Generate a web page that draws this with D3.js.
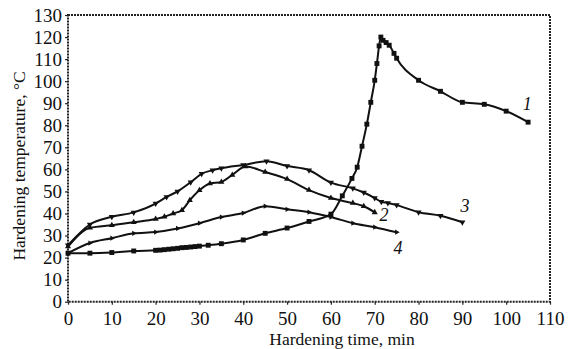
<!DOCTYPE html>
<html><head><meta charset="utf-8">
<script src="https://cdn.jsdelivr.net/npm/d3@7"></script>
<style>body{margin:0;background:#fff}svg{display:block}text{font-family:'Liberation Serif','Times New Roman',serif}</style>
</head><body>
<svg id="c" width="568" height="349"></svg>
<script>
const xTicks = [0,10,20,30,40,50,60,70,80,90,100,110];
const yTicks = [0,10,20,30,40,50,60,70,80,90,100,110,120,130];
const curve1 = [[0,22],[5,22],[10,22.3],[15,23],[20,23.3],[21,23.4],[22,23.6],[23,23.8],[24,24],[25,24.2],[26,24.5],[27,24.6],[28,24.8],[29,25],[30,25.2],[32,25.6],[35,26.3],[40,28],[45,31],[50,33.4],[55,36.4],[60,39.7],[62.6,48],[64.8,55.9],[66,61],[67.1,70.5],[68.2,80.5],[69.1,90.4],[70,100.4],[70.5,108],[71,116],[71.4,120],[71.9,118.5],[72.6,117.5],[73.3,116.3],[74.4,112.6],[75,110.4],[80,100.4],[85,95.4],[90,90.4],[95,89.5],[100,86.4],[105,81.4]];
const curve2 = [[0,25],[5,33.5],[10,34.7],[15,36],[20,37.5],[22,38.5],[24,40],[26,41.5],[27.8,46],[30,50.5],[32.4,53.6],[35,54.3],[37.5,57.5],[40.5,61.3],[45,58.8],[50,55.6],[55,50.6],[60,47],[65,44.7],[67.5,43.3],[70,40.5]];
const curve3 = [[0,25.6],[5,35],[10,38.5],[15,40.5],[20,44.5],[22.5,47.5],[25,50],[28,54.2],[30.5,58],[33,59.6],[35,60.5],[40,62],[45.3,63.7],[50,61.5],[55,59.6],[60,54],[65,51.4],[67.5,49.5],[70,47],[71.5,45.3],[73,44.8],[75,43.8],[80,40.6],[85,39],[90,36]];
const curve4 = [[0,22],[5,26.6],[10,28.8],[15,31],[20,31.6],[25,33.2],[30,35.6],[35,38.4],[40,40.2],[45,43.3],[50,41.9],[55,40.6],[60,38.4],[65,35.6],[70,33.8],[75,31.5]];
const curveLabels = [["1",104.8,86.8],["2",72.1,36.5],["3",90.6,40.6],["4",75.3,21.6]];

const svg = d3.select("#c");
const x = d3.scaleLinear().domain([0,110]).range([68,550]);
const y = d3.scaleLinear().domain([0,130]).range([301.7,15]);
const font = "'Liberation Serif','Times New Roman',serif";

svg.append("rect").attr("x",x(0)).attr("y",y(130)).attr("width",x(110)-x(0)).attr("height",y(0)-y(130))
  .attr("fill","none").attr("stroke","#222").attr("stroke-width",2).attr("stroke-dasharray","2,1");

const xa = svg.append("g").attr("transform",`translate(0,${y(0)})`)
  .call(d3.axisBottom(x).tickValues(xTicks).tickSize(3).tickPadding(7).tickFormat(d3.format("d")));
const ya = svg.append("g").attr("transform",`translate(${x(0)},0)`)
  .call(d3.axisLeft(y).tickValues(yTicks).tickSize(3).tickPadding(3).tickFormat(d3.format("d")));
[xa,ya].forEach(a=>{
  a.attr("font-family",font).attr("font-size",19);
  a.select(".domain").remove();
  a.selectAll("line").attr("stroke","#222").attr("stroke-width",1.2);
  a.selectAll("text").style("font-family",font).attr("font-size",19).attr("fill","#111");
});

svg.append("text").attr("x",342).attr("y",345).attr("text-anchor","middle")
  .attr("font-size",17.5).attr("fill","#111").text("Hardening time, min");
svg.append("text").attr("transform","translate(25,166) rotate(-90)").attr("text-anchor","middle")
  .attr("font-size",17.5).attr("fill","#111").text("Hardening temperature, °C");

const line = d3.line().x(d=>x(d[0])).y(d=>y(d[1])).curve(d3.curveMonotoneX);
const series = [
  {data:curve1, sym:d3.symbolSquare, size:24, rot:0},
  {data:curve2, sym:d3.symbolTriangle, size:16, rot:0},
  {data:curve3, sym:d3.symbolTriangle, size:16, rot:180},
  {data:curve4, sym:d3.symbolTriangle, size:12, rot:90}
];
series.forEach(s=>{
  svg.append("path").datum(s.data).attr("d",line).attr("fill","none").attr("stroke","#111").attr("stroke-width",2);
  svg.append("g").selectAll("path").data(s.data).join("path")
    .attr("d",d3.symbol().type(s.sym).size(s.size))
    .attr("transform",d=>`translate(${x(d[0])},${y(d[1])}) rotate(${s.rot})`)
    .attr("fill","#111");
});

svg.append("g").selectAll("text").data(curveLabels).join("text")
  .attr("x",d=>x(d[1])).attr("y",d=>y(d[2])).attr("text-anchor","middle")
  .attr("font-style","italic").attr("font-size",18).attr("fill","#111")
  .text(d=>d[0]);
</script>
</body></html>
